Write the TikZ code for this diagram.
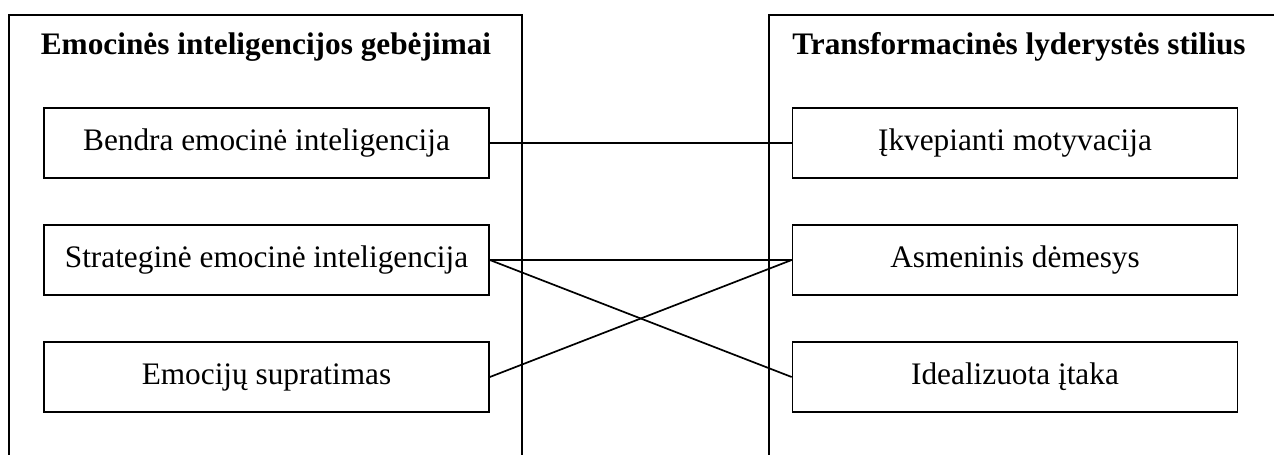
\documentclass[tikz,border=0pt]{standalone}
\usepackage{fontspec}
\setmainfont{Liberation Serif}
\begin{document}
\begin{tikzpicture}[x=1pt,y=-1pt,line width=1.7pt,
  item/.style={draw,minimum width=445pt,minimum height=70pt,inner sep=0pt,font=\fontsize{31.3}{36}\selectfont},
  heading/.style={anchor=base,inner sep=0pt,font=\fontsize{31.3}{36}\selectfont\bfseries}]
\useasboundingbox (0,0) rectangle (1274,455);
% group frames, open at the bottom
\draw (9,455) -- (9,15) -- (522,15) -- (522,455);
\draw (769,455) -- (769,15) -- (1274,15);
\node[heading] (hl) at (266,54) {Emocinės inteligencijos gebėjimai};
\node[heading] (hr) at (1019,54) {Transformacinės lyderystės stilius};
% emotional intelligence abilities
\node[item] (l1) at (266.5,143) {Bendra emocinė inteligencija};
\node[item] (l2) at (266.5,260) {Strateginė emocinė inteligencija};
\node[item] (l3) at (266.5,377) {Emocijų supratimas};
% transformational leadership
\node[item] (r1) at (1015,143) {Įkvepianti motyvacija};
\node[item] (r2) at (1015,260) {Asmeninis dėmesys};
\node[item] (r3) at (1015,377) {Idealizuota įtaka};
% links
\draw (l1.east) -- (r1.west);
\draw (l2.east) -- (r2.west);
\draw (l2.east) -- (r3.west);
\draw (l3.east) -- (r2.west);
\end{tikzpicture}
\end{document}
